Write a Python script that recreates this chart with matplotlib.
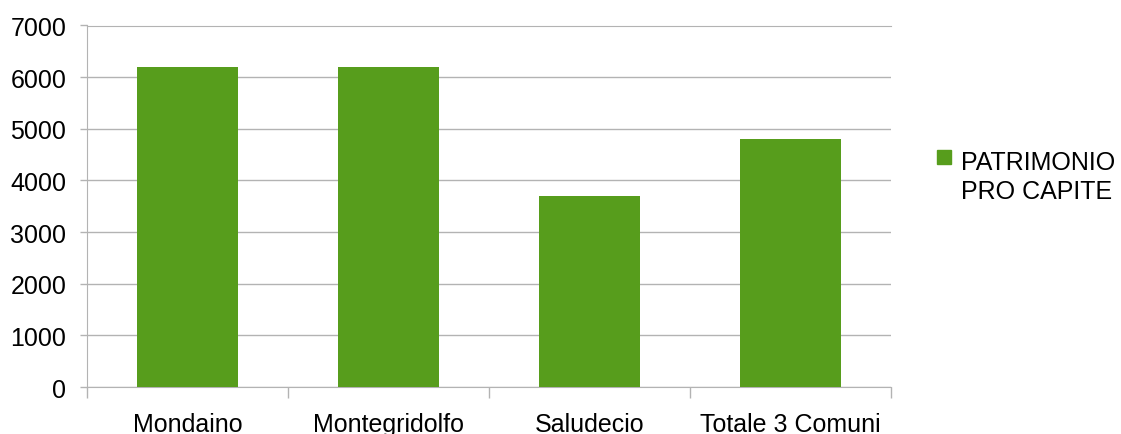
import numpy as np
import matplotlib.pyplot as plt
from matplotlib.patches import Rectangle

# data
comuni = ["Mondaino", "Montegridolfo", "Saludecio", "Totale 3 Comuni"]
patrimonio = [6200, 6200, 3700, 4800]
serie = "PATRIMONIO\nPRO CAPITE"

plt.rcParams['font.family'] = ['Liberation Sans', 'DejaVu Sans']
W, H = 1121, 435
verde = "#579d1c"
grigio = "#b3b3b3"

fig = plt.figure(figsize=(W/100, H/100), dpi=100)
ax = fig.add_axes([87/W, 1 - 388/H, (891 - 87)/W, (388 - 26.5)/H])

x = np.arange(len(comuni))
ax.bar(x, patrimonio, width=0.5, color=verde, zorder=3)

ax.set_xlim(-0.5, len(comuni) - 0.5)
ax.set_ylim(0, 7000)
ax.set_yticks(np.arange(0, 7001, 1000))
ax.yaxis.grid(True, color=grigio, linewidth=1, zorder=0)

# category boundaries carry the tick marks, labels sit at the centres
ax.set_xticks(np.arange(-0.5, len(comuni)))
ax.set_xticklabels([])
ax.set_xticks(x, minor=True)
ax.set_xticklabels(comuni, minor=True, fontsize=18)
ax.tick_params(axis="x", which="major", length=8, color=grigio, width=1)
ax.tick_params(axis="x", which="minor", length=0, pad=18)
ax.tick_params(axis="y", length=5, color=grigio, width=1, labelsize=18, pad=10)

ax.spines["right"].set_visible(False)
for side in ["left", "bottom", "top"]:
    ax.spines[side].set_color(grigio)

# legend drawn by hand so the swatch lines up with the first text line
fig.patches.append(Rectangle((937/W, 1 - 165/H), 14/W, 14/H,
                             transform=fig.transFigure, color=verde))
fig.text(961/W, 1 - 151/H, serie, fontsize=18, va="top", ha="left",
         linespacing=1.25)

fig.savefig("out.png", dpi=100)
